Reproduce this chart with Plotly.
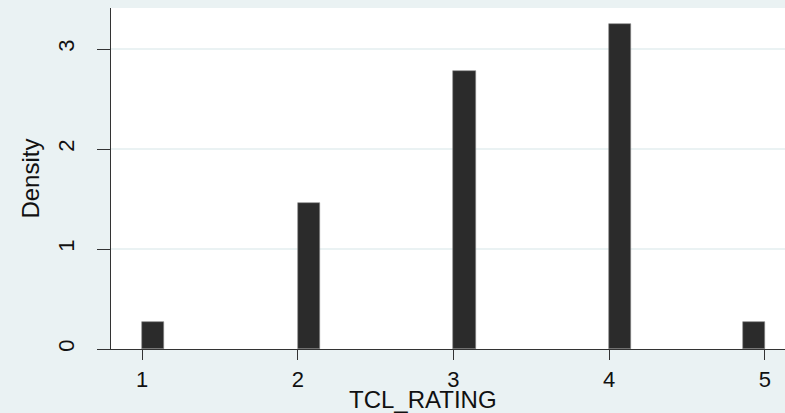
"""Density histogram of TCL_RATING (Stata-style)."""

import plotly.graph_objects as go

bin_starts = [1.0, 2.0, 3.0, 4.0, 4.857]
bin_width = 0.143
density = [0.27, 1.46, 2.78, 3.25, 0.27]
y_ticks = [0, 1, 2, 3]
x_ticks = [1, 2, 3, 4, 5]

BG = "#EAF2F3"
font = "Liberation Sans, Arial, sans-serif"

fig = go.Figure()
fig.add_trace(
    go.Bar(
        x=[s + bin_width / 2 for s in bin_starts],
        y=density,
        width=bin_width,
        marker={"color": "#2B2B2B", "line": {"color": "#888888", "width": 0.6}},
        showlegend=False,
    )
)
fig.update_layout(
    width=785,
    height=413,
    paper_bgcolor=BG,
    plot_bgcolor="white",
    margin={"l": 111, "r": 0, "t": 8, "b": 64},
    font={"family": font, "size": 22, "color": "#111111"},
    bargap=0,
    xaxis={
        "range": [0.80, 5.13],
        "tickvals": x_ticks,
        "ticks": "outside",
        "ticklen": 10,
        "tickcolor": "#333333",
        "showline": True,
        "linecolor": "#333333",
        "linewidth": 1.2,
        "showgrid": False,
        "zeroline": False,
        "ticklabelstandoff": 0,
    },
    yaxis={
        "range": [0, 3.41],
        "tickvals": y_ticks,
        "tickangle": -90,
        "ticks": "outside",
        "ticklen": 13,
        "tickcolor": "#333333",
        "showline": True,
        "linecolor": "#333333",
        "linewidth": 1.2,
        "showgrid": True,
        "gridcolor": BG,
        "gridwidth": 1.5,
        "zeroline": False,
        "ticklabelstandoff": 14,
    },
    annotations=[
        {
            "text": "TCL_RATING",
            "xref": "paper",
            "yref": "paper",
            "x": 0.463,
            "y": -0.102,
            "xanchor": "center",
            "yanchor": "top",
            "showarrow": False,
            "font": {"size": 24},
        },
        {
            "text": "Density",
            "textangle": -90,
            "xref": "paper",
            "yref": "paper",
            "x": -0.097,
            "y": 0.5,
            "xanchor": "right",
            "yanchor": "middle",
            "showarrow": False,
            "font": {"size": 24},
        },
    ],
)
fig.write_html(
    "out.html",
    config={"displayModeBar": False},
    post_script="document.body.style.margin = '0';",
)
